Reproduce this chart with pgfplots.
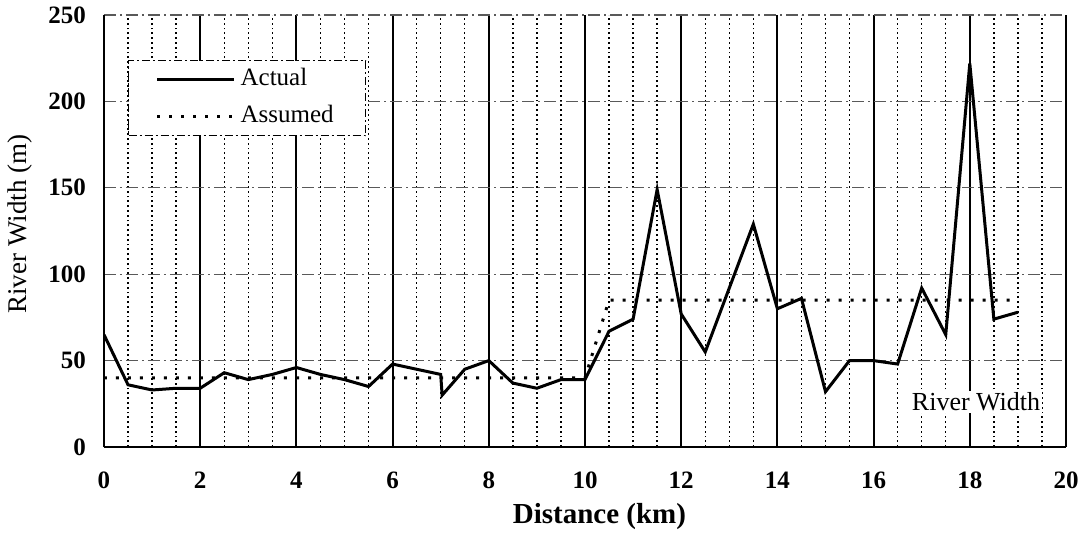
\documentclass[border=0pt]{standalone}
\usepackage{pgfplots}
\pgfplotsset{compat=1.18}
\usepackage{fontspec}
\setmainfont{Liberation Serif}

\begin{document}
\begin{tikzpicture}
\path[use as bounding box] (-52pt,-45.5pt) rectangle (492pt,223.5pt);
\begin{axis}[
    at={(0pt,0pt)}, anchor=south west,
    scale only axis,
    width=481pt, height=216pt,
    xmin=0, xmax=20, ymin=0, ymax=250,
    xtick={0,2,...,20},
    minor xtick={0.5,1,...,19.5},
    ytick={0,50,...,250},
    xmajorgrids, xminorgrids, ymajorgrids,
    major x grid style={black, line width=1pt},
    minor x grid style={black, line width=0.7pt, dash pattern=on 0.9pt off 1.5pt},
    major y grid style={gray!70!black, line width=0.6pt, dash pattern=on 6pt off 2pt on 1pt off 2pt},
    major tick length=0pt, minor tick length=0pt,
    axis x line*=bottom, axis y line*=left,
    axis line style={-, black, line width=1.2pt},
    /pgf/number format/assume math mode=true,
    ticklabel style={font=\fontsize{12.5}{15}\selectfont\bfseries},
    xticklabel style={yshift=-9pt},
    yticklabel style={xshift=-5.5pt},
    xlabel={Distance (km)},
    ylabel={River Width (m)},
    xlabel style={font=\fontsize{14.5}{16}\selectfont\bfseries,
        at={(axis description cs:0.515,-0.16)}, anchor=center},
    ylabel style={font=\fontsize{13.5}{15}\selectfont,
        at={(axis description cs:-0.0873,0.516)}, anchor=center},
    legend image code/.code={\draw[#1] (0pt,0pt) -- (38.5pt,0pt);},
    legend style={
        at={(axis description cs:0.025,0.896)}, anchor=north west,
        draw=black, fill=white, line width=0.6pt,
        dash pattern=on 4pt off 1.5pt on 1pt off 1.5pt,
        inner xsep=13.5pt, inner ysep=3.5pt,
        font=\fontsize{12.5}{15}\selectfont,
        nodes={inner sep=0pt, text height=9pt, text depth=3pt},
        row sep=6.5pt,
    },
    legend cell align={left},
]

% measured river width
\addplot[black, solid, line width=1.5pt] coordinates {
    (0,65) (0.5,36) (1,33) (1.5,34) (2,34) (2.5,43) (3,39) (3.5,42)
    (4,46) (4.5,42) (5,39) (5.5,35) (6,48) (6.5,45) (7,42) (7.03,30)
    (7.5,45) (8,50) (8.5,37) (9,34) (9.5,39) (10,39) (10.5,67) (11,74)
    (11.5,149) (12,77) (12.5,55) (13,92) (13.5,129) (14,80) (14.5,86)
    (15,32) (15.5,50) (16,50) (16.5,48) (17,92) (17.5,65) (18,222)
    (18.5,74) (19,78)
};
\addlegendentry{\makebox[51.5pt][l]{\hspace{2.5pt}Actual}}

% model width
\addplot[black, line width=1.5pt, dash pattern=on 1.5pt off 4.5pt] coordinates {
    (0,40) (10,40) (10.5,85) (19,85)
};
\addlegendentry{\makebox[51.5pt][l]{\hspace{2.5pt}Assumed}}

\node[fill=white, inner sep=1pt, font=\fontsize{13}{15}\selectfont]
    at (axis cs:18.13,26) {River Width};

\end{axis}
\end{tikzpicture}
\end{document}
